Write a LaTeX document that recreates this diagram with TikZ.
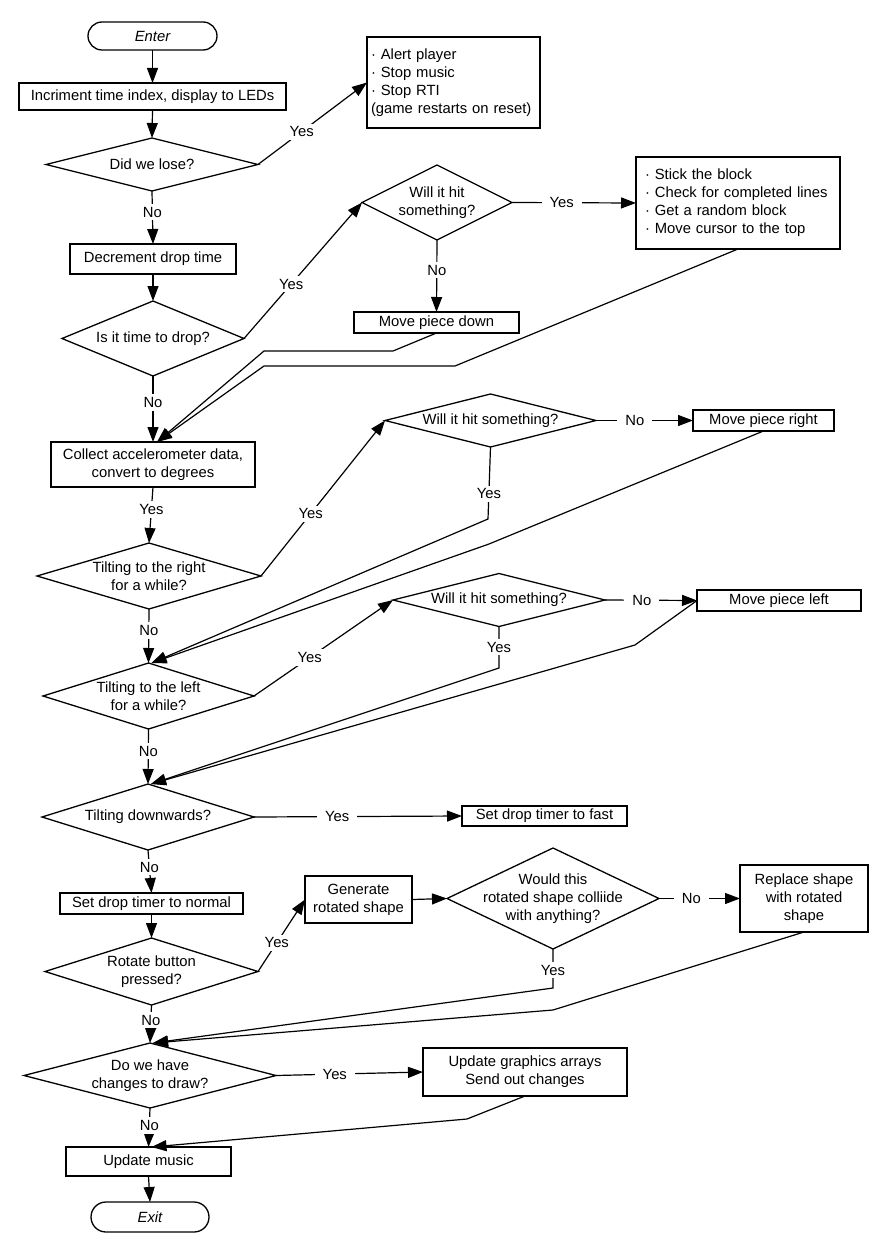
\documentclass[tikz,border=0pt]{standalone}
\usepackage{fontspec}
\setmainfont{Liberation Sans}
\usetikzlibrary{arrows.meta,shapes.geometric}
\tikzset{
	flow/.style={line width=1.2pt, -{Triangle[length=15pt,width=11pt]}},
	box/.style={draw, line width=1.3pt, inner sep=0pt, outer sep=0pt, align=center},
	term/.style={box, rounded corners=14pt, execute at begin node=\itshape},
	decision/.style={draw, diamond, line width=1.3pt, inner sep=0pt, outer sep=0pt, label={[align=center]center:#1}},
	answer/.style={fill=white, inner xsep=8pt, inner ysep=3pt},
}

\begin{document}
\begin{tikzpicture}[x=1pt, y=-1pt, font=\fontsize{14.8}{18}\selectfont]
			%%%%% START %%%%%
			
			\useasboundingbox[fill=white] (0,0) rectangle (880,1252);
			
			\node[term, minimum width=129pt, minimum height=28pt] (enter) at (152.5,36) {Enter};
			\node[box, minimum width=267pt, minimum height=27pt] (incr) at (152.5,96.5) {Incriment time index, display to LEDs};
			\node[decision={Did we lose?}, minimum width=212pt, minimum height=53pt] (lose) at (152,164.5) {};
			\node[box, align=left, text width=165pt, inner xsep=4pt, minimum height=91pt] (alert) at (453.5,82.5) {· Alert player\\· Stop music\\· Stop RTI\\(game restarts on reset)};
			
			\node[box, minimum width=166pt, minimum height=30pt] (decr) at (153,259) {Decrement drop time};
			\node[decision={Is it time to drop?}, minimum width=182pt, minimum height=75pt] (drop) at (153,338.5) {};
			\node[decision={Will it hit\\something?}, minimum width=150pt, minimum height=75pt] (hitA) at (437,202.5) {};
			\node[box, align=left, text width=186pt, inner xsep=9pt, minimum height=92pt] (stick) at (738,203) {· Stick the block\\· Check for completed lines\\· Get a random block\\· Move cursor to the top};
			\node[box, minimum width=165pt, minimum height=21pt] (moveD) at (436.5,322.5) {Move piece down};
			
			\node[box, minimum width=204pt, minimum height=45pt] (collect) at (153,464.5) {Collect accelerometer data,\\convert to degrees};
			\node[decision={Tilting to the right\\for a while?}, minimum width=224pt, minimum height=66pt] (tiltR) at (149,576) {};
			\node[decision={Will it hit something?}, minimum width=211pt, minimum height=53pt] (hitB) at (490.5,420.5) {};
			\node[box, minimum width=141pt, minimum height=21pt] (moveR) at (763.5,420.5) {Move piece right};
			
			\node[decision={Tilting to the left\\for a while?}, minimum width=211pt, minimum height=66pt] (tiltL) at (148.5,696) {};
			\node[decision={Will it hit something?}, minimum width=212pt, minimum height=53pt] (hitC) at (499,600) {};
			\node[box, minimum width=164pt, minimum height=21pt] (moveL) at (779,600.5) {Move piece left};
			
			\node[decision={Tilting downwards?}, minimum width=212pt, minimum height=66pt] (tiltD) at (148,817) {};
			\node[box, minimum width=165pt, minimum height=20pt] (fast) at (544.5,816) {Set drop timer to fast};
			\node[box, minimum width=183pt, minimum height=21pt] (normal) at (151.5,903.5) {Set drop timer to normal};
			
			\node[decision={Rotate button\\pressed?}, minimum width=213pt, minimum height=67pt] (rotate) at (151.5,971.5) {};
			\node[box, minimum width=107pt, minimum height=47pt] (gen) at (358.5,899.5) {Generate\\rotated shape};
			\node[decision={Would this\\rotated shape colliide\\with anything?}, minimum width=212pt, minimum height=101pt] (collide) at (553,898.5) {};
			\node[box, minimum width=128pt, minimum height=67pt] (replace) at (804,898.5) {Replace shape\\with rotated\\shape};
			
			\node[decision={Do we have\\changes to draw?}, minimum width=252pt, minimum height=65pt] (changes) at (150,1075.5) {};
			\node[box, minimum width=204pt, minimum height=48pt] (gfx) at (525,1072) {Update graphics arrays\\Send out changes};
			\node[box, minimum width=165pt, minimum height=29pt] (music) at (148.5,1161.5) {Update music};
			\node[term, minimum width=118pt, minimum height=30pt, rounded corners=15pt] (exit) at (150,1217) {Exit};
			
			\coordinate (downBend) at (393,351);
			\coordinate (downKnee) at (264,351);
			\coordinate (stickBend) at (455,366);
			\coordinate (stickKnee) at (264,366);
			\coordinate (hitBBend) at (488,519);
			\coordinate (moveRBend) at (489,544);
			\coordinate (hitCBend) at (499,668);
			\coordinate (moveLBend) at (635,645);
			\coordinate (collideBend) at (553,988);
			\coordinate (replaceBend) at (553,1010);
			\coordinate (gfxBend) at (467,1119);
			
			\draw[flow] (enter.south) -- (incr.north);
			\draw[flow] (incr.south) -- (lose.north);
			\draw[flow] (lose.east) -- node[answer, pos=0.4] {Yes} (alert.west);
			\draw[flow] (lose.south) -- node[answer, pos=0.4] {No} (decr.north);
			\draw[flow] (decr.south) -- (drop.north);
			\draw[flow] (drop.east) -- node[answer, pos=0.4] {Yes} (hitA.west);
			\draw[flow] (hitA.east) -- node[answer, pos=0.4] {Yes} (stick.west);
			\draw[flow] (hitA.south) -- node[answer, pos=0.42] {No} (moveD.north);
			\draw[flow] (drop.south) -- node[answer, pos=0.4] {No} (collect.north);
			\draw[flow] (moveD.south) -- (downBend) -- (downKnee) -- ([xshift=4pt]collect.north);
			\draw[flow] (stick.south) -- (stickBend) -- (stickKnee) -- ([xshift=4pt]collect.north);
			
			\draw[flow] (collect.south) -- node[answer, pos=0.4] {Yes} (tiltR.north);
			\draw[flow] (tiltR.east) -- node[answer, pos=0.4] {Yes} (hitB.west);
			\draw[flow] (hitB.east) -- node[answer, pos=0.4] {No} (moveR.west);
			\draw[flow] (hitB.south) -- node[answer, pos=0.65] {Yes} (hitBBend) -- ([xshift=3pt]tiltL.north);
			\draw[flow] (moveR.south) -- (moveRBend) -- ([xshift=3pt]tiltL.north);
			\draw[flow] (tiltR.south) -- node[answer, pos=0.4] {No} (tiltL.north);
			
			\draw[flow] (tiltL.east) -- node[answer, pos=0.4] {Yes} (hitC.west);
			\draw[flow] (hitC.east) -- node[answer, pos=0.4] {No} (moveL.west);
			\draw[flow] (hitC.south) -- node[answer] {Yes} (hitCBend) -- ([xshift=3pt]tiltD.north);
			\draw[flow] (moveL.west) -- (moveLBend) -- ([xshift=3pt]tiltD.north);
			\draw[flow] (tiltL.south) -- node[answer, pos=0.4] {No} (tiltD.north);
			
			\draw[flow] (tiltD.east) -- node[answer, pos=0.4] {Yes} (fast.west);
			\draw[flow] (tiltD.south) -- node[answer, pos=0.4] {No} (normal.north);
			\draw[flow] (normal.south) -- (rotate.north);
			\draw[flow] (rotate.east) -- node[answer, pos=0.4] {Yes} (gen.west);
			\draw[flow] (gen.east) -- (collide.west);
			\draw[flow] (collide.east) -- node[answer, pos=0.4] {No} (replace.west);
			\draw[flow] (collide.south) -- node[answer, pos=0.54] {Yes} (collideBend) -- ([xshift=3pt]changes.north);
			\draw[flow] (replace.south) -- (replaceBend) -- ([xshift=3pt]changes.north);
			\draw[flow] (rotate.south) -- node[answer, pos=0.4] {No} (changes.north);
			
			\draw[flow] (changes.east) -- node[answer, pos=0.4] {Yes} (gfx.west);
			\draw[flow] (changes.south) -- node[answer, pos=0.45] {No} (music.north);
			\draw[flow] (gfx.south) -- (gfxBend) -- ([xshift=3pt]music.north);
			\draw[flow] (music.south) -- (exit.north);
			
			%%%%% END %%%%%
\end{tikzpicture}
\end{document}
